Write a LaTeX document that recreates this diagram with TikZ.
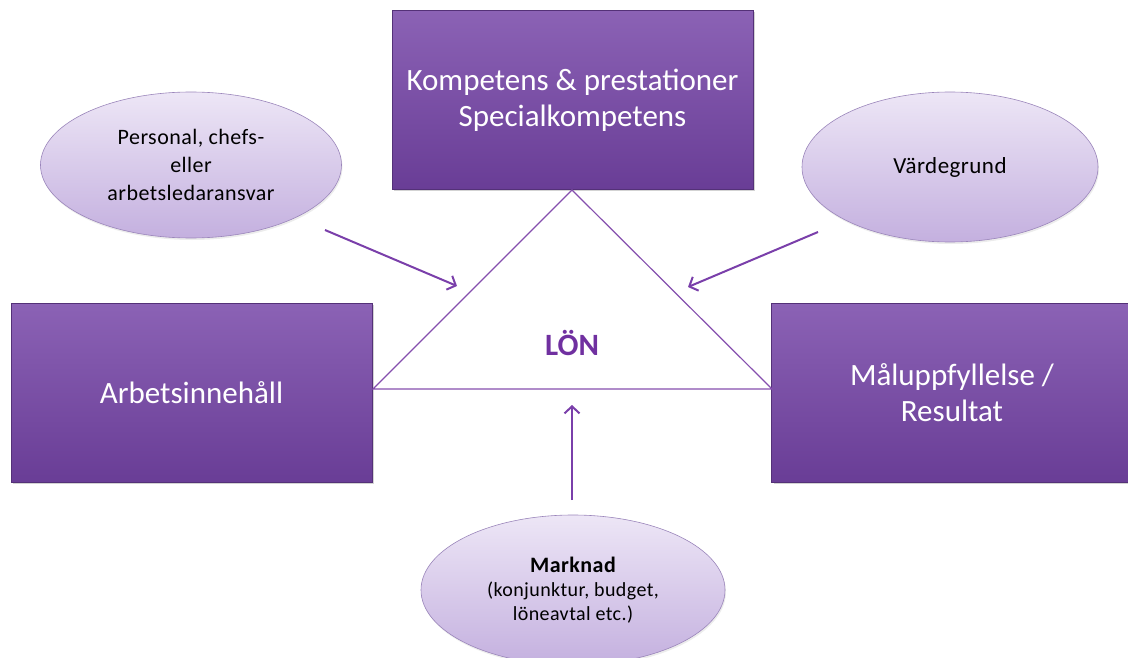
\documentclass[tikz,border=0pt]{standalone}
\usepackage{fontspec}
\setmainfont{Carlito}
\newfontfamily\ellfont[LetterSpace=2]{Carlito}
\usetikzlibrary{shapes.geometric,shadows,arrows.meta}
\definecolor{boxtop}{HTML}{8B62B5}
\definecolor{boxbot}{HTML}{693D96}
\definecolor{ellt}{HTML}{EDE6F6}
\definecolor{ellb}{HTML}{C4B0DF}
\definecolor{ellline}{HTML}{9A85BA}
\definecolor{arr}{HTML}{7A3FAA}
\definecolor{lon}{HTML}{7030A0}
\tikzset{
  pbox/.style={rectangle, draw=boxbot!80!black, line width=0.6pt, top color=boxtop, bottom color=boxbot,
    text=white, font=\fontsize{31}{36}\selectfont, align=center, inner sep=0pt,
    minimum width=361pt, minimum height=179pt,
    drop shadow={opacity=0.35, shadow xshift=2pt, shadow yshift=-2pt}},
  pell/.style={ellipse, draw=ellline, line width=0.6pt, top color=ellt, bottom color=ellb,
    text=black, align=center, inner sep=0pt,
    drop shadow={opacity=0.15, shadow xshift=1pt, shadow yshift=-2pt}},
  parr/.style={draw=arr, line width=2pt, -{Straight Barb[length=7pt,width=15pt]}},
}
\begin{document}
\begin{tikzpicture}[x=1pt,y=-1pt]
\useasboundingbox (0,0) rectangle (1128,658);
% boxes
\node[pbox] (top) at (572.5,100)
  {Kompetens \& prestationer\\Specialkompetens};
\node[pbox] (left) at (191.5,392.5) {Arbetsinnehåll};
\node[pbox] (right) at (952,392.5) {Måluppfyllelse /\\Resultat};
% triangle
\coordinate (apex) at (572,190);
\coordinate (bl) at (373,389);
\coordinate (br) at (772,389);
\draw[lon!85, line width=1.2pt] (apex) -- (bl) -- (br) -- cycle;
\node[text=lon, font=\fontsize{31}{34}\selectfont\bfseries] (lonn) at (572,343) {LÖN};
% ellipses
\node[pell, minimum width=301pt, minimum height=146pt, font=\ellfont\fontsize{22}{28}\selectfont] (e1) at (191,165)
  {Personal, chefs-\\eller\\arbetsledaransvar};
\node[pell, minimum width=296pt, minimum height=150pt, font=\ellfont\fontsize{23}{26}\selectfont] (e2) at (950,167)
  {Värdegrund};
\node[pell, minimum width=304pt, minimum height=150pt, font=\ellfont\fontsize{20}{24}\selectfont] (e3) at (573,590)
  {{\fontsize{22}{24}\selectfont\bfseries Marknad}\\
   (konjunktur, budget,\\
   löneavtal etc.)};
% arrows
\coordinate (a1s) at (325,230);
\coordinate (a1e) at (457,286);
\coordinate (a2s) at (818,232);
\coordinate (a2e) at (688,287);
\coordinate (a3s) at (572,500);
\coordinate (a3e) at (572,405);
\draw[parr] (a1s) -- (a1e);
\draw[parr] (a2s) -- (a2e);
\draw[parr] (a3s) -- (a3e);
\end{tikzpicture}
\end{document}
